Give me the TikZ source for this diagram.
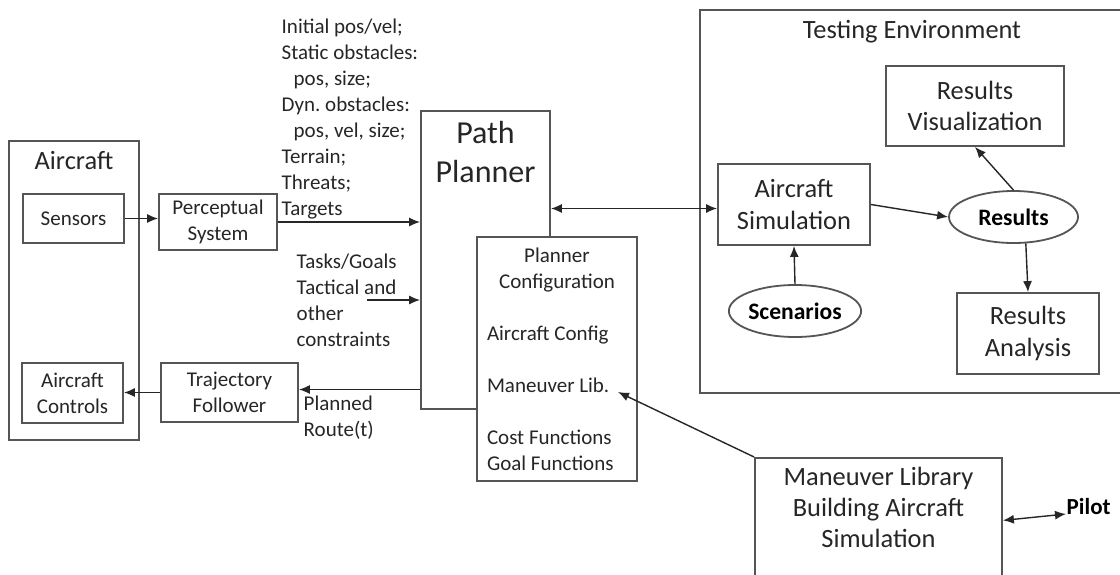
\documentclass[tikz,border=0pt]{standalone}
\usepackage{fontspec}
\setmainfont{Carlito}
\usepackage{tikz}
\usetikzlibrary{arrows.meta,positioning,shapes.geometric,calc}
\definecolor{ink}{RGB}{38,38,38}
\definecolor{edge}{RGB}{85,85,85}
\newcommand{\txs}{\fontsize{10.5}{13}\selectfont}
\newcommand{\txm}{\fontsize{13.2}{15.6}\selectfont}
\newcommand{\txl}{\fontsize{16}{19.5}\selectfont}
\frenchspacing
\tikzset{
  flow/.style={>={Latex[length=5.5pt,width=4.5pt]},line width=0.7pt,draw=ink},
  blk/.style={draw=edge,line width=0.9pt,fill=white,align=center,text=ink,
    inner sep=0pt,font=\txs},
  oval/.style={ellipse,draw=edge,line width=0.9pt,fill=white,text=black,
    inner sep=0pt,font=\fontsize{11.8}{14}\selectfont\bfseries},
  note/.style={align=left,inner sep=0pt,text=ink,font=\txs},
  hdr/.style={align=center,inner sep=0pt,text=ink},
}

\begin{document}
\begin{tikzpicture}[flow,x=0.5pt,y=-0.5pt]
\useasboundingbox (0,0) rectangle (1120,574);
\clip (0,0) rectangle (1120,574);
% aircraft side
\node[blk,minimum width=65pt,minimum height=149.5pt] (aircraft) at (74,290.5) {};
\node[hdr,font=\txm,below=5.5pt of aircraft.north] (actitle) {Aircraft};
\node[blk,minimum width=50.5pt,minimum height=24.5pt] (sensors) at (73.5,218.5) {Sensors};
\node[blk,minimum width=50.5pt,minimum height=30pt] (controls) at (72.5,393) {Aircraft\\Controls};
\node[blk,minimum width=59pt,minimum height=28pt] (percept) at (218,222) {Perceptual\\System};
\node[blk,minimum width=68.5pt,minimum height=29.5pt] (traj) at (229.5,392.5) {Trajectory\\Follower};
% planner
\node[blk,minimum width=64.5pt,minimum height=149pt] (planner) at (485.5,260) {};
\node[hdr,font=\txl,below=5pt of planner.north] (pptitle) {Path\\Planner};
\node[blk,minimum width=80pt,minimum height=122pt,align=left] (config) at (557,359)
  {\makebox[70pt]{Planner}\\\makebox[70pt]{Configuration}\\[13pt]Aircraft Config\\[13pt]Maneuver Lib.\\[13pt]Cost Functions\\Goal Functions};
\node[note,anchor=north west] (inputs) at (281,18)
  {Initial pos/vel;\\Static obstacles:\\\hspace*{6pt}pos, size;\\Dyn. obstacles:\\\hspace*{6pt}pos, vel, size;\\Terrain;\\Threats;\\Targets};
\node[note,anchor=north west] (tasks) at (296,253) {Tasks/Goals\\Tactical and\\other\\constraints};
\node[note,anchor=north west] (route) at (303,395) {Planned\\Route(t)};
\coordinate (taskin) at (367,300);
\coordinate (libtip) at (618,392);
% testing environment
\node[blk,minimum width=212pt,minimum height=191.5pt] (testenv) at (912,201.5) {};
\node[hdr,font=\txm,below=5pt of testenv.north] (tetitle) {Testing Environment};
\node[blk,font=\txm,minimum width=89pt,minimum height=40pt] (resvis) at (975,106) {Results\\Visualization};
\node[blk,font=\txm,minimum width=76pt,minimum height=40.5pt] (airsim) at (794,204.5) {Aircraft\\Simulation};
\node[oval,minimum width=64.5pt,minimum height=26pt] (results) at (1013.5,217) {Results};
\node[oval,minimum width=64pt,minimum height=26pt] (scen) at (795,311) {Scenarios};
\node[blk,font=\txm,minimum width=71pt,minimum height=40.5pt] (resana) at (1028,333.5) {Results\\Analysis};
% maneuver library
\node[blk,anchor=north,minimum width=123.5pt,minimum height=75pt] (mlib) at (878.5,457) {};
\node[hdr,font=\txm,below=4.5pt of mlib.north] (mltext) {Maneuver Library\\Building Aircraft\\Simulation};
\node[inner sep=0pt,text=black,font=\fontsize{11.5}{13}\selectfont\bfseries,anchor=base west] (pilot) at (1066,514) {Pilot};
% connectors
\draw[->] (sensors.east) -- (sensors.east -| percept.west);
\draw[->] (percept.east) -- (percept.east -| planner.west);
\draw[->] (taskin) -- (taskin -| planner.west);
\draw[->] ([yshift=1.5pt]traj.east -| planner.west) -- ([yshift=1.5pt]traj.east);
\draw[->] (traj.west) -- (traj.west -| controls.east);
\draw[<->] ([yshift=-2pt]airsim.west -| planner.east) -- ([yshift=-2pt]airsim.west);
\draw[->] (airsim.east) -- (results.west);
\draw[->] (results.north) -- (resvis.south);
\draw[->] (results.295) -- (resana.north);
\draw[->] (scen.north) -- (airsim.south);
\draw[->] (mlib.north west) -- (libtip);
\draw[<->] ([yshift=6.25pt]mlib.east) -- (pilot.base west);
\end{tikzpicture}
\end{document}
